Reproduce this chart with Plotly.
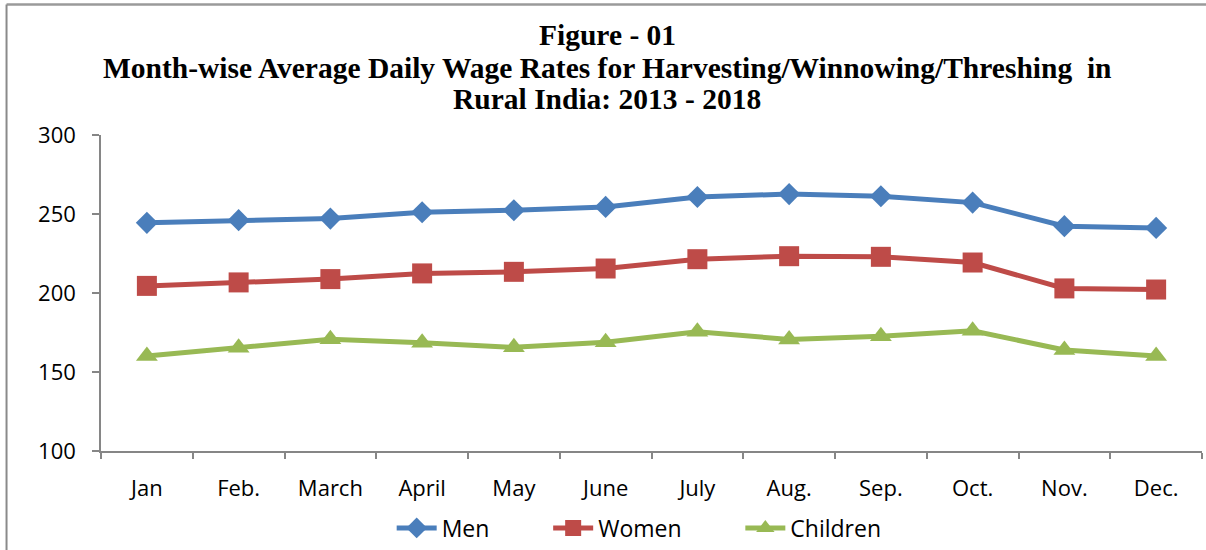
import plotly.graph_objects as go

months = ["Jan", "Feb.", "March", "April", "May", "June", "July", "Aug.", "Sep.", "Oct.", "Nov.", "Dec."]
men = [244.4, 246.1, 247.1, 251.1, 252.4, 254.5, 260.8, 262.6, 261.2, 257.2, 242.3, 241.2]
women = [204.5, 206.7, 208.8, 212.4, 213.4, 215.5, 221.4, 223.3, 222.9, 219.3, 202.9, 202.2]
children = [160.1, 165.3, 170.8, 168.5, 165.6, 168.9, 175.5, 170.6, 172.7, 176.1, 163.9, 160.1]
y_ticks = [100, 150, 200, 250, 300]

title_lines = [
    "Figure - 01",
    "Month-wise Average Daily Wage Rates for Harvesting/Winnowing/Threshing  in",
    "Rural India: 2013 - 2018",
]

pad = "&nbsp;" * 9
fig = go.Figure()
fig.add_trace(go.Scatter(x=months, y=men, name="Men" + pad, mode="lines+markers",
                         line=dict(color="#4A7EBB", width=5),
                         marker=dict(symbol="diamond", size=17, color="#4A7EBB")))
fig.add_trace(go.Scatter(x=months, y=women, name="Women" + pad, mode="lines+markers",
                         line=dict(color="#BE4B48", width=5),
                         marker=dict(symbol="square", size=20, color="#BE4B48")))
fig.add_trace(go.Scatter(x=months, y=children, name="Children", mode="lines+markers",
                         line=dict(color="#98B954", width=5),
                         marker=dict(symbol="triangle-up", size=19, color="#98B954")))

axis_col = "#868686"
fig.update_layout(
    width=1206, height=550,
    margin=dict(l=101, r=4, t=135, b=99, autoexpand=False),
    paper_bgcolor="white", plot_bgcolor="white",
    font=dict(family="Open Sans, sans-serif", size=22, color="#000000"),
    showlegend=True,
    legend=dict(orientation="h", xref="container", x=0.53, xanchor="center",
                yref="container", y=0.04, yanchor="middle",
                font=dict(size=23), itemwidth=40, tracegroupgap=0,
                bgcolor="rgba(0,0,0,0)"),
    xaxis=dict(type="category", range=[-0.5, 11.5], showline=True, linecolor=axis_col,
               linewidth=1.5, ticks="outside", tickson="boundaries", ticklen=6,
               tickcolor=axis_col, tickwidth=1.5, showgrid=False, zeroline=False,
               ticklabelstandoff=17, tickfont=dict(size=22), automargin=False),
    yaxis=dict(range=[100, 300], tickvals=y_ticks, showline=True, linecolor=axis_col,
               linewidth=1.5, ticks="outside", ticklen=7, tickcolor=axis_col, tickwidth=1.5,
               showgrid=False, zeroline=False, ticklabelstandoff=12,
               tickfont=dict(size=22), automargin=False),
)

ys = [1.318, 1.211, 1.113]
for txt, yy in zip(title_lines, ys):
    fig.add_annotation(text="<b>" + txt + "</b>", xref="paper", yref="paper",
                       x=0.46, y=yy, xanchor="center", yanchor="middle", showarrow=False,
                       font=dict(family="Liberation Serif, Times New Roman, serif", size=29.5,
                                 color="#000000"))

# chart frame (top and left edges visible)
fig.add_shape(type="line", xref="paper", yref="paper", x0=-0.0858, x1=1.01, y0=1.413, y1=1.413,
              line=dict(color="#9a9a9a", width=2.5))
fig.add_shape(type="line", xref="paper", yref="paper", x0=-0.0858, x1=-0.0858, y0=-0.32, y1=1.413,
              line=dict(color="#8a8a8a", width=2))

fig.write_html("out.html", config={"displayModeBar": False},
               post_script="document.body.style.margin='0';")
